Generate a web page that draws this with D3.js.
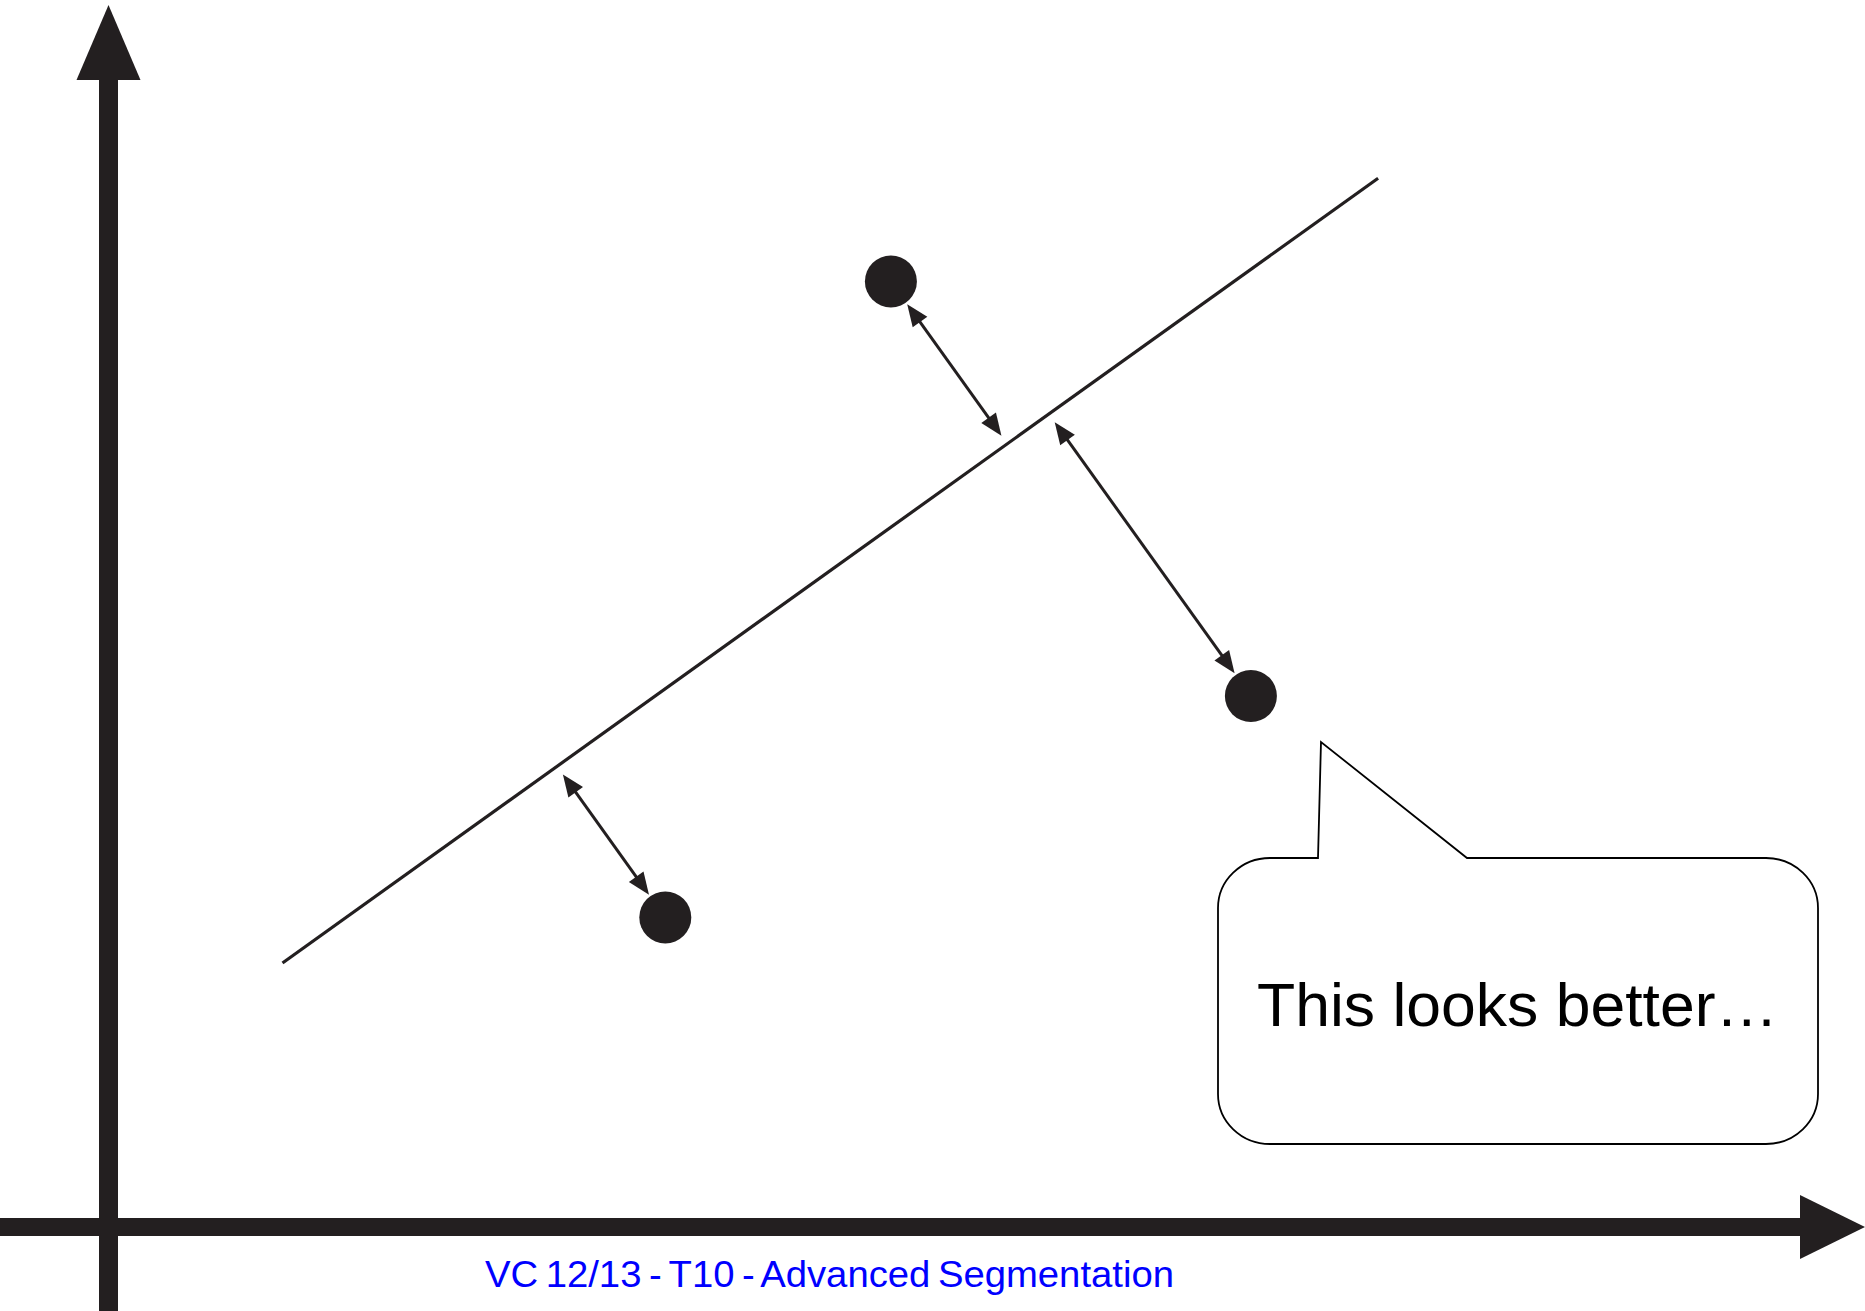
<!DOCTYPE html>
<html>
<head>
<meta charset="utf-8">
<script src="https://cdn.jsdelivr.net/npm/d3@7"></script>
<style>
  html, body { margin: 0; padding: 0; background: #fff; }
  svg { display: block; }
</style>
</head>
<body>
<svg id="chart" width="1865" height="1311"></svg>
<script>
// data, in chart units
const pointNames = ["A", "B", "C"];
const pointX = [65.2, 95.2, 46.4];
const pointY = [78.8, 44.25, 25.8];
const fitX = [14.5, 105.8];
const fitY = [22.0, 87.4];
const calloutText = "This looks better…";
const footerText = "VC 12/13 - T10 - Advanced Segmentation";

const width = 1865, height = 1311;
const ink = "#231f20";

const x = d3.scaleLinear().domain([0, 140]).range([108.5, 1788.5]);
const y = d3.scaleLinear().domain([0, 100]).range([1227, 27]);

const svg = d3.select("#chart");

// axes (no ticks, just thick arrows)
const x0 = x(0), y0 = y(0);
const axes = svg.append("g").attr("fill", ink).attr("stroke", "none");
axes.append("rect")
    .attr("x", x0 - 9.5).attr("y", 79)
    .attr("width", 19).attr("height", height - 79);
axes.append("path")
    .attr("d", `M${x0 - 32},80 L${x0},5 L${x0 + 32},80 Z`);
axes.append("rect")
    .attr("x", 0).attr("y", y0 - 9)
    .attr("width", 1801).attr("height", 18);
axes.append("path")
    .attr("d", `M1800,${y0 - 32} L${width},${y0} L1800,${y0 + 32} Z`);

// fitted line
const p0 = [x(fitX[0]), y(fitY[0])];
const p1 = [x(fitX[1]), y(fitY[1])];
svg.append("line")
    .attr("x1", p0[0]).attr("y1", p0[1])
    .attr("x2", p1[0]).attr("y2", p1[1])
    .attr("stroke", ink)
    .attr("stroke-width", 3.2);

// residual arrows: from each point to its foot on the line
const len = Math.hypot(p1[0] - p0[0], p1[1] - p0[1]);
const u = [(p1[0] - p0[0]) / len, (p1[1] - p0[1]) / len];
const radius = 26;

const arrows = svg.append("g");
pointNames.forEach(function(name, i) {
    const p = [x(pointX[i]), y(pointY[i])];
    const t = (p[0] - p0[0]) * u[0] + (p[1] - p0[1]) * u[1];
    const f = [p0[0] + u[0] * t, p0[1] + u[1] * t];
    const dist = Math.hypot(f[0] - p[0], f[1] - p[1]);
    const d = [(f[0] - p[0]) / dist, (f[1] - p[1]) / dist];
    const n = [-d[1], d[0]];
    const a = [p[0] + d[0] * (radius + 2), p[1] + d[1] * (radius + 2)];
    const b = [f[0] - d[0] * 10, f[1] - d[1] * 10];
    const headLen = 22, headW = 9;

    arrows.append("line")
        .attr("x1", a[0] + d[0] * 12).attr("y1", a[1] + d[1] * 12)
        .attr("x2", b[0] - d[0] * 12).attr("y2", b[1] - d[1] * 12)
        .attr("stroke", ink)
        .attr("stroke-width", 3);

    const head = function(tip, dir) {
        const bx = tip[0] - dir[0] * headLen, by = tip[1] - dir[1] * headLen;
        return `M${tip[0]},${tip[1]} L${bx + n[0] * headW},${by + n[1] * headW} ` +
               `L${bx - n[0] * headW},${by - n[1] * headW} Z`;
    };
    arrows.append("path").attr("d", head(b, d)).attr("fill", ink);
    arrows.append("path").attr("d", head(a, [-d[0], -d[1]])).attr("fill", ink);
});

// data points
svg.append("g")
    .selectAll("circle")
    .data(pointNames)
    .enter()
    .append("circle")
    .attr("cx", function(dd, i) { return x(pointX[i]); })
    .attr("cy", function(dd, i) { return y(pointY[i]); })
    .attr("r", radius)
    .attr("fill", ink);

// speech bubble
const bl = 1218, br = 1818, bt = 858, bb = 1144, rx = 52, ry = 50;
const bubble = [
    `M${bl + rx},${bt}`,
    `L1318,${bt}`,
    `L1321,742`,
    `L1467,${bt}`,
    `L${br - rx},${bt}`,
    `A${rx},${ry} 0 0 1 ${br},${bt + ry}`,
    `L${br},${bb - ry}`,
    `A${rx},${ry} 0 0 1 ${br - rx},${bb}`,
    `L${bl + rx},${bb}`,
    `A${rx},${ry} 0 0 1 ${bl},${bb - ry}`,
    `L${bl},${bt + ry}`,
    `A${rx},${ry} 0 0 1 ${bl + rx},${bt}`,
    "Z"
].join(" ");
svg.append("path")
    .attr("d", bubble)
    .attr("fill", "#fff")
    .attr("stroke", "#000")
    .attr("stroke-width", 1.8)
    .attr("stroke-linejoin", "miter");

svg.append("text")
    .attr("x", 1257).attr("y", 1026)
    .attr("font-family", "Liberation Sans, Arial, sans-serif")
    .attr("font-size", 62)
    .attr("textLength", 521)
    .attr("lengthAdjust", "spacingAndGlyphs")
    .attr("fill", "#000")
    .text(calloutText);

// footer
svg.append("text")
    .attr("x", 485).attr("y", 1287)
    .attr("font-family", "Liberation Sans, Arial, sans-serif")
    .attr("font-size", 37)
    .attr("word-spacing", -3)
    .attr("textLength", 689)
    .attr("lengthAdjust", "spacingAndGlyphs")
    .attr("fill", "#0000ff")
    .text(footerText);
</script>
</body>
</html>
